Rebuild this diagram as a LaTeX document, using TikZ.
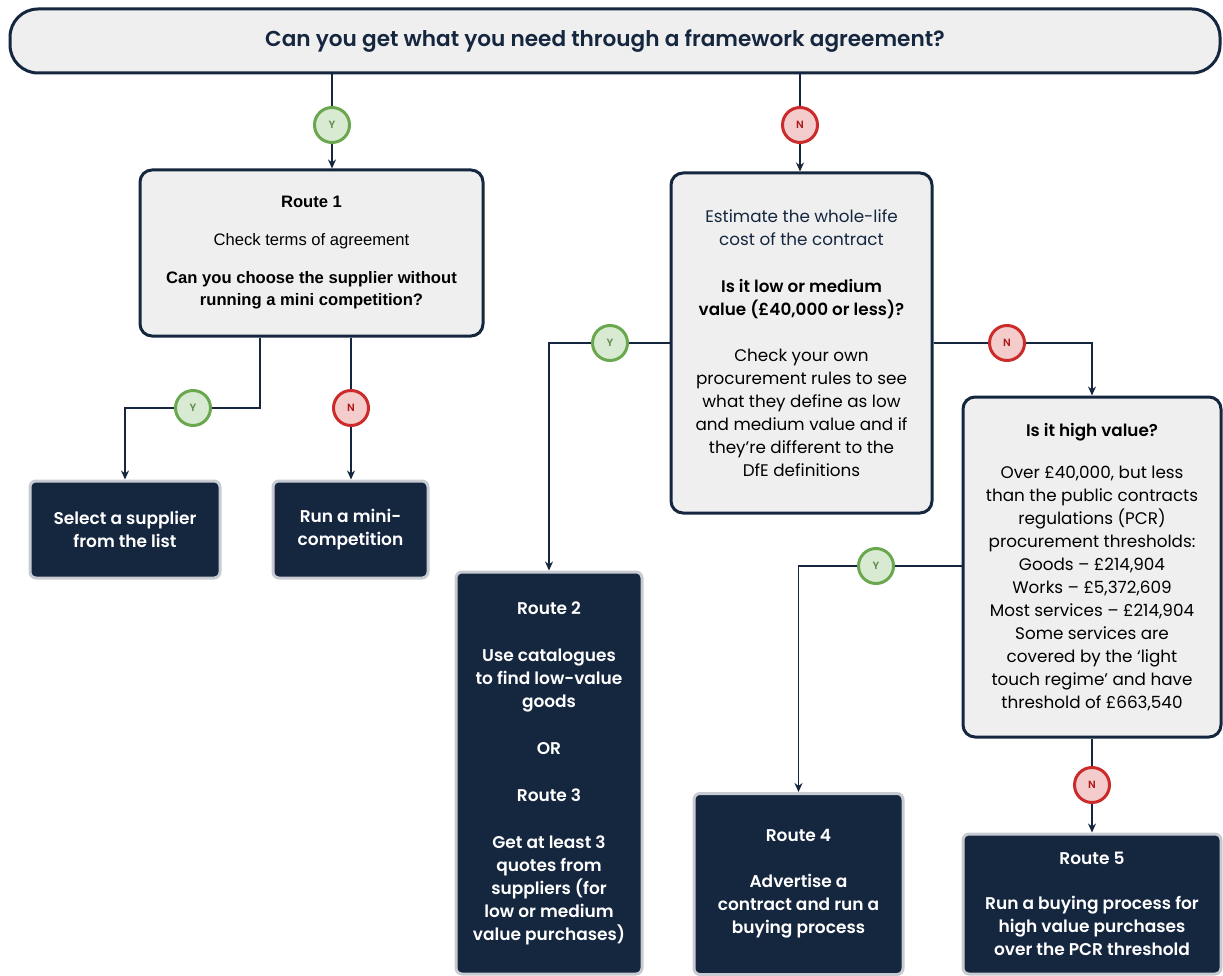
\documentclass[tikz,border=0pt]{standalone}
\usepackage{fontspec}
\setmainfont{Poppins}
\newfontfamily\semib{Poppins SemiBold}
\newfontfamily\arialf{Liberation Sans}
\usetikzlibrary{arrows.meta}
\definecolor{navy}{HTML}{15263F}
\definecolor{lightbox}{HTML}{EFEFEF}
\definecolor{darkborder}{HTML}{C8CCD2}
\definecolor{ygreen}{HTML}{6AA84F}
\definecolor{yfill}{HTML}{D9EAD3}
\definecolor{ytext}{HTML}{5E8A4A}
\definecolor{nred}{HTML}{CC2B2B}
\definecolor{nfill}{HTML}{F4CCCC}
\definecolor{ntext}{HTML}{B01818}
\tikzset{
  x=1pt, y=-1pt,
  lbox/.style={draw=navy, line width=3pt, fill=lightbox, rounded corners=12pt, inner sep=0pt, align=center, text=black},
  dbox/.style={draw=darkborder, line width=3pt, fill=navy, rounded corners=6pt, inner sep=0pt, align=center, text=white, font=\semib\fontsize{17}{23}\selectfont},
  ycirc/.style={circle, draw=ygreen, line width=3pt, fill=yfill, minimum size=35pt, inner sep=0pt, text=ytext, font=\semib\fontsize{10.5}{10.5}\selectfont},
  ncirc/.style={circle, draw=nred, line width=3pt, fill=nfill, minimum size=35pt, inner sep=0pt, text=ntext, font=\semib\fontsize{10.5}{10.5}\selectfont},
  conn/.style={draw=navy, line width=1.8pt},
  arr/.style={conn, -{Stealth[length=9pt,width=8pt]}}
}
\begin{document}
\begin{tikzpicture}
\useasboundingbox (0,0) rectangle (1223,976);
% banner
\node[draw=navy, line width=3pt, fill=lightbox, rounded corners=28pt, minimum width=1210pt, minimum height=64pt, inner sep=0pt, text=navy, font=\semib\fontsize{21.6}{24}\selectfont] (banner) at (615,41) {Can you get what you need through a framework agreement?\hspace*{20pt}};
% boxes
\node[lbox, minimum width=343pt, minimum height=166pt, font=\arialf\fontsize{16.6}{22}\selectfont] (r1) at (311.5,253)
 {\bfseries Route 1\\[16pt]Check terms of agreement\\[16pt]\bfseries Can you choose the supplier without\\\bfseries running a mini competition?};
\node[lbox, minimum width=261pt, minimum height=340pt, font=\fontsize{16.8}{23}\selectfont] (mid) at (801.5,343)
 {\color{navy}Estimate the whole-life\\\color{navy}cost of the contract\\[24pt]\semib Is it low or medium\\\semib value (£40,000 or less)?\\[23pt]Check your own\\procurement rules to see\\what they define as low\\and medium value and if\\they’re different to the\\DfE definitions};
\node[lbox, minimum width=258pt, minimum height=340pt, font=\fontsize{16.8}{23}\selectfont] (hv) at (1092,567)
 {\semib Is it high value?\\[19pt]Over £40,000, but less\\than the public contracts\\regulations (PCR)\\procurement thresholds:\\Goods – £214,904\\Works – £5,372,609\\Most services – £214,904\\Some services are\\covered by the ‘light\\touch regime’ and have\\threshold of £663,540};
\node[dbox, minimum width=190pt, minimum height=97pt] (sel) at (125,529.5) {Select a supplier\\from the list};
\node[dbox, minimum width=155pt, minimum height=97pt] (run) at (350.5,529.5) {Run a mini-\\competition};
\node[dbox, minimum width=186pt, minimum height=402pt] (r2) at (549,773)
 {Route 2\\[24pt]Use catalogues\\to find low-value\\goods\\[24pt]OR\\[24pt]Route 3\\[24pt]Get at least 3\\quotes from\\suppliers (for\\low or medium\\value purchases)};
\node[dbox, minimum width=209pt, minimum height=181pt] (r4) at (798.5,884)
 {Route 4\\[23pt]Advertise a\\contract and run a\\buying process};
\node[dbox, minimum width=258pt, minimum height=140pt] (r5) at (1092,904)
 {Route 5\\[22pt]Run a buying process for\\high value purchases\\over the PCR threshold};
% circles
\node[ycirc] (y1) at (332,125) {Y};
\node[ncirc] (n1) at (800,125) {N};
\node[ycirc] (y2) at (193,408) {Y};
\node[ncirc] (n2) at (351,408) {N};
\node[ycirc] (y3) at (610,343) {Y};
\node[ncirc] (n3) at (1007,343) {N};
\node[ycirc] (y4) at (876,566) {Y};
\node[ncirc] (n4) at (1092,785) {N};
\coordinate (c1) at (260,408);
% connectors
\draw[conn] (banner.south -| y1) -- (y1.north);
\draw[arr] (y1.south) -- (r1.north -| y1);
\draw[conn] (banner.south -| n1) -- (n1.north);
\draw[arr] (n1.south) -- (mid.north -| n1);
\draw[conn] (r1.south -| c1) -- (c1) -- (y2.east);
\draw[arr] (y2.west) -- (sel.north |- y2) -- (sel.north);
\draw[conn] (r1.south -| n2) -- (n2.north);
\draw[arr] (n2.south) -- (run.north -| n2);
\draw[conn] (mid.west |- y3) -- (y3.east);
\draw[arr] (y3.west) -- (r2.north |- y3) -- (r2.north);
\draw[conn] (mid.east |- n3) -- (n3.west);
\draw[arr] (n3.east) -- (hv.north |- n3) -- (hv.north);
\draw[conn] (hv.west |- y4) -- (y4.east);
\draw[arr] (y4.west) -- (r4.north |- y4) -- (r4.north);
\draw[conn] (hv.south) -- (n4.north);
\draw[arr] (n4.south) -- (r5.north);
\end{tikzpicture}
\end{document}
